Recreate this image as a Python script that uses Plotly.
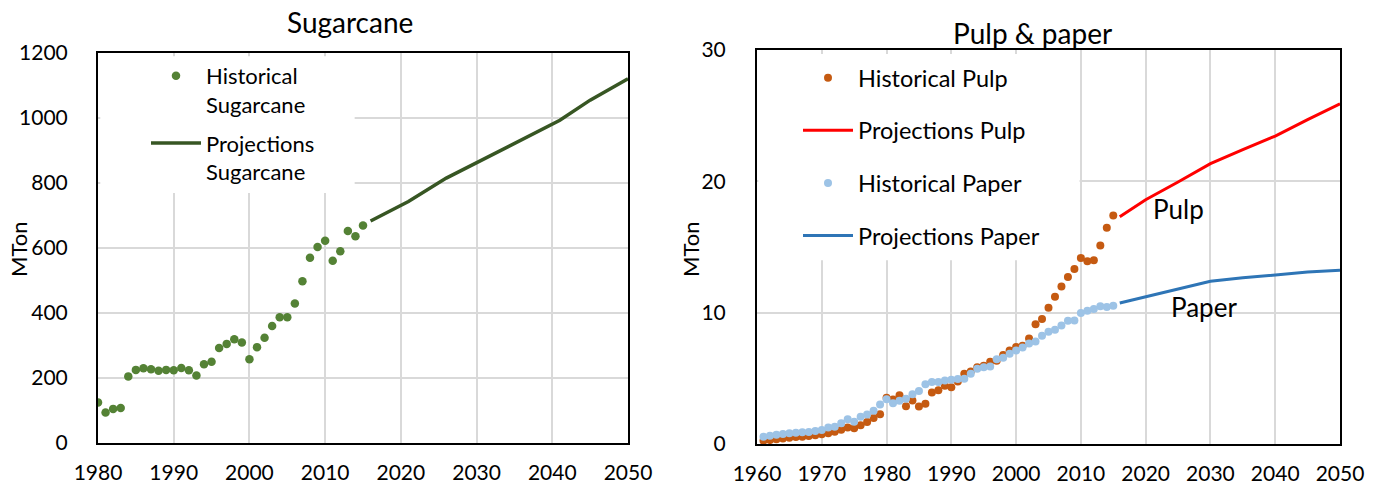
import plotly.graph_objects as go

# ---------------- Sugarcane ----------------
cane_hist_years = list(range(1980, 2016))
cane_hist = [125, 94, 105, 108, 205, 225, 230, 227, 222, 225,
             224, 231, 224, 208, 242, 250, 292, 305, 319, 309,
             258, 295, 324, 360, 387, 387, 429, 498, 570, 603,
             622, 561, 590, 652, 636, 669]
cane_proj_years = [2016, 2021, 2026, 2030, 2034, 2040, 2041, 2045, 2050]
cane_proj = [683, 743, 815, 863, 911, 981, 993, 1055, 1121]

# ---------------- Pulp & paper ----------------
pp_hist_years = list(range(1961, 2016))
pulp_hist = [0.25, 0.30, 0.36, 0.41, 0.48, 0.53, 0.56, 0.61, 0.66, 0.74,
             0.82, 0.94, 1.09, 1.25, 1.20, 1.43, 1.68, 1.98, 2.26, 3.53,
             3.38, 3.72, 2.87, 3.31, 2.85, 3.07, 3.92, 4.10, 4.43, 4.33,
             4.76, 5.34, 5.52, 5.85, 5.95, 6.26, 6.34, 6.77, 7.12, 7.38,
             7.48, 8.04, 9.11, 9.52, 10.37, 11.22, 12.00, 12.72, 13.33, 14.17,
             13.92, 13.99, 15.11, 16.46, 17.40]
paper_hist = [0.56, 0.63, 0.71, 0.76, 0.82, 0.86, 0.89, 0.92, 0.99, 1.07,
              1.25, 1.32, 1.58, 1.88, 1.70, 2.08, 2.24, 2.54, 3.00, 3.41,
              3.10, 3.30, 3.44, 3.79, 4.03, 4.55, 4.73, 4.73, 4.84, 4.89,
              4.94, 4.97, 5.34, 5.73, 5.85, 5.90, 6.46, 6.56, 6.87, 7.12,
              7.35, 7.66, 7.81, 8.24, 8.55, 8.70, 9.03, 9.38, 9.41, 9.97,
              10.14, 10.28, 10.48, 10.43, 10.53]
pp_proj_years = [2016, 2020, 2025, 2030, 2035, 2040, 2045, 2050]
pulp_proj = [17.3, 18.6, 19.95, 21.35, 22.42, 23.45, 24.7, 25.9]
paper_proj = [10.74, 11.2, 11.8, 12.39, 12.65, 12.85, 13.1, 13.23]

FONT = "Lato"
W, H = 1383, 491


def px(xp):
    return xp / W


def py(yp):
    return 1 - yp / H


fig = go.Figure()

fig.add_trace(go.Scatter(
    x=cane_hist_years, y=cane_hist, mode="markers",
    name="Historical<br>Sugarcane", legendgroup="a",
    marker=dict(color="#548235", size=8.5),
    xaxis="x", yaxis="y", legend="legend"))
fig.add_trace(go.Scatter(
    x=cane_proj_years, y=cane_proj, mode="lines",
    name="Projections<br>Sugarcane", legendgroup="b",
    line=dict(color="#375623", width=3.5),
    xaxis="x", yaxis="y", legend="legend"))

fig.add_trace(go.Scatter(
    x=pp_hist_years, y=pulp_hist, mode="markers",
    name="Historical Pulp", legendgroup="c",
    marker=dict(color="#C55A11", size=8),
    xaxis="x2", yaxis="y2", legend="legend2"))
fig.add_trace(go.Scatter(
    x=pp_proj_years, y=pulp_proj, mode="lines",
    name="Projections Pulp", legendgroup="d",
    line=dict(color="#FF0000", width=3),
    xaxis="x2", yaxis="y2", legend="legend2"))
fig.add_trace(go.Scatter(
    x=pp_hist_years, y=paper_hist, mode="markers",
    name="Historical Paper", legendgroup="e",
    marker=dict(color="#9DC3E6", size=8),
    xaxis="x2", yaxis="y2", legend="legend2"))
fig.add_trace(go.Scatter(
    x=pp_proj_years, y=paper_proj, mode="lines",
    name="Projections Paper", legendgroup="f",
    line=dict(color="#2E75B6", width=3),
    xaxis="x2", yaxis="y2", legend="legend2"))

axis_common = dict(
    showgrid=True, gridcolor="#d9d9d9", gridwidth=1.5,
    showline=True, linecolor="black", linewidth=2, mirror=True,
    zeroline=False, ticks="", automargin=False,
    tickfont=dict(family=FONT, size=21, color="black"),
)

fig.update_layout(
    width=W, height=H,
    margin=dict(l=0, r=0, t=0, b=0),
    paper_bgcolor="white", plot_bgcolor="white",
    font=dict(family=FONT, color="black"),
    xaxis=dict(domain=[px(98), px(628)], range=[1980, 2050], dtick=10,
               anchor="y", ticklabelstandoff=10, **axis_common),
    yaxis=dict(domain=[py(443), py(53)], range=[0, 1200], dtick=200,
               anchor="x", ticklabelstandoff=24, **axis_common),
    xaxis2=dict(domain=[px(757), px(1340)], range=[1960, 2050], dtick=10,
                anchor="y2", ticklabelstandoff=10, **axis_common),
    yaxis2=dict(domain=[py(444), py(50)], range=[0, 30], dtick=10,
                anchor="x2", ticklabelstandoff=25, **axis_common),
    legend=dict(
        x=px(146), y=py(55), xanchor="left", yanchor="top",
        bgcolor="rgba(255,255,255,0)", borderwidth=0,
        font=dict(family=FONT, size=22, color="black"),
        itemwidth=50, traceorder="grouped", tracegroupgap=7,
        valign="top"),
    legend2=dict(
        x=px(798), y=py(56), xanchor="left", yanchor="top",
        bgcolor="rgba(255,255,255,0)", borderwidth=0,
        font=dict(family=FONT, size=23.5, color="black"),
        itemwidth=50, traceorder="grouped", tracegroupgap=19),
)

# white panels behind the legends (above gridlines, below data)
fig.add_shape(type="rect", xref="x", yref="y", layer="between",
              x0=1980.3, x1=2013.9, y0=769, y1=1190,
              fillcolor="white", line=dict(width=0))
fig.add_shape(type="rect", xref="x2", yref="y2", layer="between",
              x0=1960.2, x1=2009.8, y0=14.0, y1=29.7,
              fillcolor="white", line=dict(width=0))

annos = [
    dict(text="Sugarcane", x=px(350), y=py(22), size=28),
    dict(text="Pulp & paper", x=px(1032), y=py(33), size=28),
]
for a in annos:
    fig.add_annotation(text=a["text"], x=a["x"], y=a["y"], xref="paper",
                       yref="paper", showarrow=False, xanchor="center",
                       yanchor="middle",
                       font=dict(family=FONT, size=a["size"], color="black"))

for xp_ in (18, 690):
    fig.add_annotation(text="MTon", x=px(xp_), y=py(250), xref="paper",
                       yref="paper", showarrow=False, textangle=-90,
                       xanchor="center", yanchor="middle",
                       font=dict(family=FONT, size=22, color="black"))

fig.add_annotation(text="Pulp", x=2025.1, y=17.9, xref="x2", yref="y2",
                   showarrow=False, font=dict(family=FONT, size=26, color="black"))
fig.add_annotation(text="Paper", x=2029.0, y=10.46, xref="x2", yref="y2",
                   showarrow=False, font=dict(family=FONT, size=26, color="black"))

fig.write_html("out.html")
